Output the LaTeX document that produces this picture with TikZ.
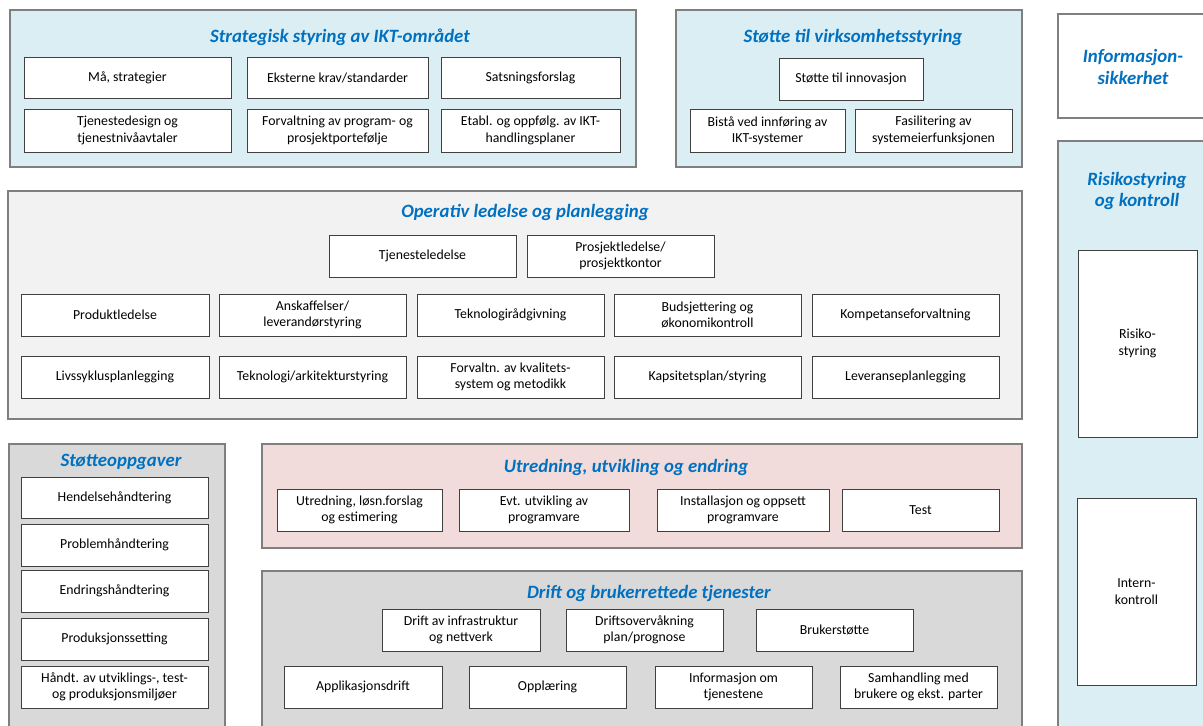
\documentclass[tikz,border=0pt]{standalone}
\usepackage{fontspec}
\setmainfont{Carlito}
\definecolor{ttl}{HTML}{0070C0}
\definecolor{lblue}{HTML}{DAEEF3}
\definecolor{lgray}{HTML}{F2F2F2}
\definecolor{mgray}{HTML}{D9D9D9}
\definecolor{lpink}{HTML}{F2DCDB}
\definecolor{pborder}{HTML}{7F7F7F}
\definecolor{bborder}{HTML}{404040}
\begin{document}
\begin{tikzpicture}[x=1pt,y=-1pt,
  panel/.style={draw=pborder,line width=1.3pt,anchor=north west,inner sep=0pt,outer sep=0pt},
  bx/.style={draw=bborder,fill=white,line width=1pt,anchor=north west,inner sep=0pt,outer sep=0pt,
    align=center,font=\fontsize{13.8}{16.5}\selectfont},
  ttlstyle/.style={text=ttl,font=\fontsize{18.8}{21.5}\selectfont\bfseries\itshape,align=center,inner sep=0pt}]
\useasboundingbox (0,0) rectangle (1203,726);
\clip (0,0) rectangle (1203,726);
% panels
\node[panel,fill=lblue,minimum width=626,minimum height=157] (pS) at (10,10) {};
\node[panel,fill=lblue,minimum width=346,minimum height=157] (pV) at (676,10) {};
\node[panel,fill=white,minimum width=160,minimum height=104] (pI) at (1058,14) {};
\node[panel,fill=lblue,minimum width=160,minimum height=600] (pR) at (1058,141) {};
\node[panel,fill=lgray,minimum width=1014,minimum height=228] (pO) at (8,191) {};
\node[panel,fill=mgray,minimum width=216,minimum height=300] (pST) at (9,444) {};
\node[panel,fill=lpink,minimum width=760,minimum height=104] (pU) at (262,444) {};
\node[panel,fill=mgray,minimum width=760,minimum height=170] (pD) at (262,571) {};
% titles
\node[ttlstyle] (tS) at (340,37) {Strategisk styring av IKT-området};
\node[ttlstyle] (tV) at (853,37) {Støtte til virksomhetsstyring};
\node[ttlstyle] (tI) at (1133,67) {Informasjon-\\sikkerhet};
\node[ttlstyle] (tR) at (1137,191) {Risikostyring\\og kontroll};
\node[ttlstyle] (tO) at (525,212) {Operativ ledelse og planlegging};
\node[ttlstyle] (tST) at (121,462) {Støtteoppgaver};
\node[ttlstyle] (tU) at (626,467) {Utredning, utvikling og endring};
\node[ttlstyle] (tD) at (649,593) {Drift og brukerrettede tjenester};
% Strategisk
\node[bx,minimum width=207,minimum height=41] (s1) at (24,57) {Må, strategier};
\node[bx,minimum width=181,minimum height=41] (s2) at (247,57) {Eksterne krav/standarder};
\node[bx,minimum width=179,minimum height=41] (s3) at (441,57) {Satsningsforslag};
\node[bx,minimum width=207,minimum height=43] (s4) at (24,109) {Tjenestedesign og\\tjenestnivåavtaler};
\node[bx,minimum width=181,minimum height=43] (s5) at (247,109) {Forvaltning av program- og\\prosjektportefølje};
\node[bx,minimum width=179,minimum height=43] (s6) at (441,109) {Etabl. og oppfølg. av IKT-\\handlingsplaner};
% Virksomhet
\node[bx,minimum width=144,minimum height=42] (v1) at (779,58) {Støtte til innovasjon};
\node[bx,minimum width=155,minimum height=43] (v2) at (690,109) {Bistå ved innføring av\\IKT-systemer};
\node[bx,minimum width=157,minimum height=43] (v3) at (855,109) {Fasilitering av\\systemeierfunksjonen};
% Risiko
\node[bx,minimum width=119,minimum height=187] (r1) at (1078,250) {Risiko-\\styring};
\node[bx,minimum width=119,minimum height=187] (r2) at (1077,498) {Intern-\\kontroll};
% Operativ
\node[bx,minimum width=187,minimum height=42] (o1) at (329,235) {Tjenesteledelse};
\node[bx,minimum width=187,minimum height=42] (o2) at (527,235) {Prosjektledelse/\\prosjektkontor};
\node[bx,minimum width=188,minimum height=42] (o3) at (21,294) {Produktledelse};
\node[bx,minimum width=187,minimum height=42] (o4) at (219,294) {Anskaffelser/\\leverandørstyring};
\node[bx,minimum width=187,minimum height=42] (o5) at (417,294) {Teknologirådgivning};
\node[bx,minimum width=187,minimum height=42] (o6) at (614,294) {Budsjettering og\\økonomikontroll};
\node[bx,minimum width=187,minimum height=42] (o7) at (812,294) {Kompetanseforvaltning};
\node[bx,minimum width=188,minimum height=42] (o8) at (21,356) {Livssyklusplanlegging};
\node[bx,minimum width=187,minimum height=42] (o9) at (219,356) {Teknologi/arkitekturstyring};
\node[bx,minimum width=187,minimum height=42] (o10) at (417,356) {Forvaltn. av kvalitets-\\system og metodikk};
\node[bx,minimum width=187,minimum height=42] (o11) at (614,356) {Kapsitetsplan/styring};
\node[bx,minimum width=187,minimum height=42] (o12) at (812,356) {Leveranseplanlegging};
% Stotteoppgaver
\node[bx,minimum width=187,minimum height=41] (a1) at (21,477) {Hendelsehåndtering};
\node[bx,minimum width=187,minimum height=42] (a2) at (21,524) {Problemhåndtering};
\node[bx,minimum width=187,minimum height=42] (a3) at (21,570) {Endringshåndtering};
\node[bx,minimum width=187,minimum height=42] (a4) at (21,618) {Produksjonssetting};
\node[bx,minimum width=187,minimum height=42] (a5) at (21,666) {Håndt. av utviklings-, test-\\og produksjonsmiljøer};
% Utredning
\node[bx,minimum width=165,minimum height=42] (u1) at (277,489) {Utredning, løsn.forslag\\og estimering};
\node[bx,minimum width=170,minimum height=42] (u2) at (459,489) {Evt. utvikling av\\programvare};
\node[bx,minimum width=172,minimum height=42] (u3) at (657,489) {Installasjon og oppsett\\programvare};
\node[bx,minimum width=157,minimum height=42] (u4) at (842,489) {Test};
% Drift
\node[bx,minimum width=158,minimum height=42] (d1) at (382,609) {Drift av infrastruktur\\og nettverk};
\node[bx,minimum width=157,minimum height=42] (d2) at (566,609) {Driftsovervåkning\\plan/prognose};
\node[bx,minimum width=157,minimum height=42] (d3) at (756,609) {Brukerstøtte};
\node[bx,minimum width=158,minimum height=42] (d4) at (284,666) {Applikasjonsdrift};
\node[bx,minimum width=157,minimum height=42] (d5) at (469,666) {Opplæring};
\node[bx,minimum width=157,minimum height=42] (d6) at (655,666) {Informasjon om\\tjenestene};
\node[bx,minimum width=157,minimum height=42] (d7) at (840,666) {Samhandling med\\brukere og ekst. parter};
\end{tikzpicture}
\end{document}
